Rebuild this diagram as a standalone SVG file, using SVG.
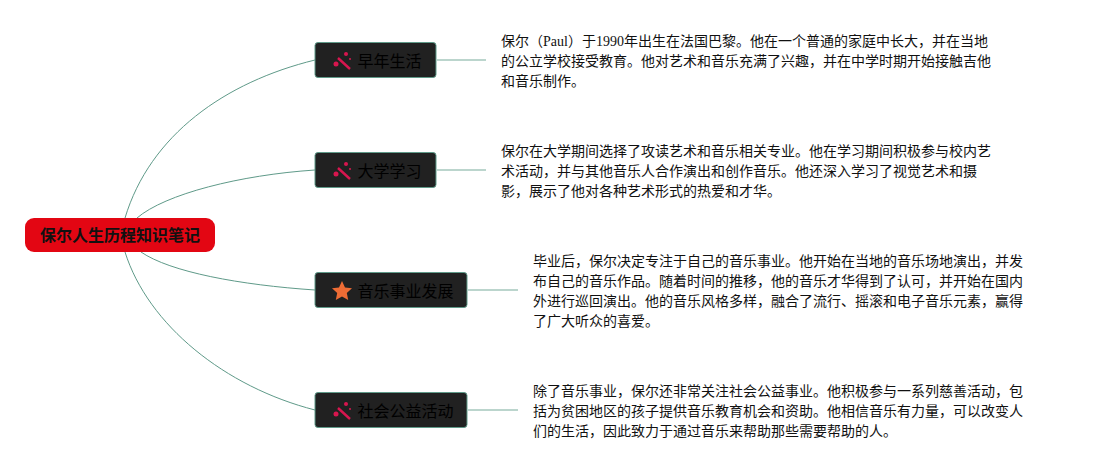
<svg xmlns="http://www.w3.org/2000/svg" width="1093" height="470" viewBox="0 0 1093 470">
<style>
.c{fill:none;stroke:#5f9a89;stroke-width:1}
.s{fill:none;stroke:#a5c7bd;stroke-width:1.500}
.b{fill:#212121;stroke:#5f9a89;stroke-width:1}
.l{font-family:"Noto Sans CJK SC","Liberation Sans",sans-serif;font-size:16px;fill:#000}
.t{font-family:"Liberation Serif","Noto Sans CJK SC",serif;font-size:14px;fill:#111}
.r{font-family:"Noto Sans CJK SC","Liberation Sans",sans-serif;font-size:16px;font-weight:700;fill:#111}
.w{fill:#d8164f}
</style>
<defs>
<g id="wand"><path d="M-4 -2L8 9" stroke="#d8164f" stroke-width="2.400" fill="none"/><circle cx="-6" cy="4" r="2.500" class="w"/><circle cx="4" cy="-6" r="2" class="w"/><circle cx="8" cy="-1" r="1" class="w"/></g>
</defs>
<g id="connectors">
<path class="c" d="M125 218C150 135 225 82 315 60"/>
<path class="c" d="M137 218C165 194 240 175 315 170"/>
<path class="c" d="M141 252C170 272 240 285 315 290"/>
<path class="c" d="M125 252C148 325 225 387 315 410"/>
<path class="s" d="M437 60H486"/>
<path class="s" d="M437 170H486"/>
<path class="s" d="M468 290H518"/>
<path class="s" d="M468 410H518"/>
</g>
<g id="root"><rect x="25" y="218" width="190" height="34" rx="9" fill="#e30613"/><text class="r" x="120" y="241" text-anchor="middle">保尔人生历程知识笔记</text></g>
<g id="n1"><rect class="b" x="315" y="42.500" width="121" height="35" rx="3"/><use href="#wand" x="342" y="60"/><text class="l" x="357.500" y="67">早年生活</text></g>
<g id="n2"><rect class="b" x="315" y="152.500" width="121" height="35" rx="3"/><use href="#wand" x="342" y="170"/><text class="l" x="357.500" y="177">大学学习</text></g>
<g id="n3"><rect class="b" x="315" y="272.500" width="152" height="35" rx="3"/><path d="M342 281l3 6.500 7 .8-5.200 4.800 1.400 7-6.200-3.500-6.200 3.500 1.400-7-5.200-4.800 7-.8z" fill="#ee6c35"/><text class="l" x="357.500" y="297">音乐事业发展</text></g>
<g id="n4"><rect class="b" x="315" y="392.500" width="152" height="35" rx="3"/><use href="#wand" x="342" y="410"/><text class="l" x="357.500" y="417">社会公益活动</text></g>
<g id="d1"><text class="t" x="501" y="46">保尔（Paul）于1990年出生在法国巴黎。他在一个普通的家庭中长大，并在当地</text><text class="t" x="501" y="66">的公立学校接受教育。他对艺术和音乐充满了兴趣，并在中学时期开始接触吉他</text><text class="t" x="501" y="86">和音乐制作。</text></g>
<g id="d2"><text class="t" x="501" y="156">保尔在大学期间选择了攻读艺术和音乐相关专业。他在学习期间积极参与校内艺</text><text class="t" x="501" y="176">术活动，并与其他音乐人合作演出和创作音乐。他还深入学习了视觉艺术和摄</text><text class="t" x="501" y="196">影，展示了他对各种艺术形式的热爱和才华。</text></g>
<g id="d3"><text class="t" x="533" y="266">毕业后，保尔决定专注于自己的音乐事业。他开始在当地的音乐场地演出，并发</text><text class="t" x="533" y="286">布自己的音乐作品。随着时间的推移，他的音乐才华得到了认可，并开始在国内</text><text class="t" x="533" y="306">外进行巡回演出。他的音乐风格多样，融合了流行、摇滚和电子音乐元素，赢得</text><text class="t" x="533" y="326">了广大听众的喜爱。</text></g>
<g id="d4"><text class="t" x="533" y="396">除了音乐事业，保尔还非常关注社会公益事业。他积极参与一系列慈善活动，包</text><text class="t" x="533" y="416">括为贫困地区的孩子提供音乐教育机会和资助。他相信音乐有力量，可以改变人</text><text class="t" x="533" y="436">们的生活，因此致力于通过音乐来帮助那些需要帮助的人。</text></g>
</svg>
